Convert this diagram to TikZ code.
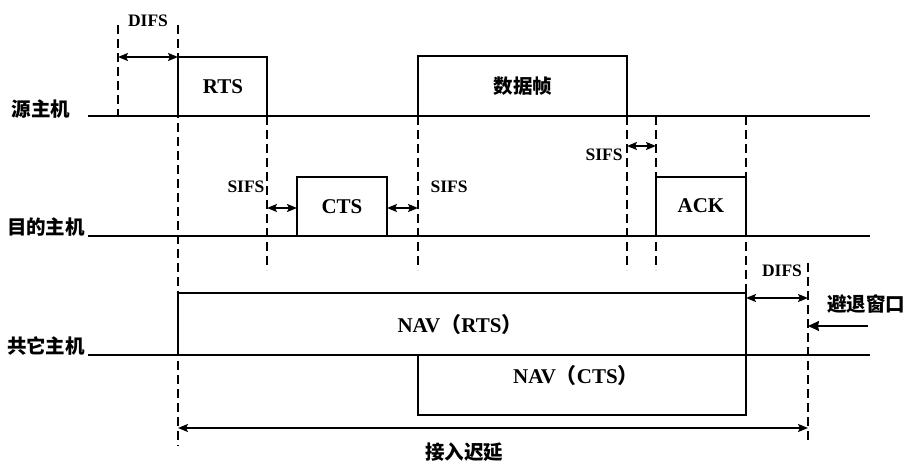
\documentclass[tikz,border=0pt]{standalone}
\usepackage{fontspec}
\setmainfont{Liberation Serif}
\newfontfamily\cjk{Noto Sans CJK SC}
\usetikzlibrary{arrows.meta}
\begin{document}
\begin{tikzpicture}[x=1pt,y=-1pt,
  solidline/.style={line width=2pt,line join=miter},
  dashline/.style={line width=2.2pt,dash pattern=on 9pt off 5pt},
  dimarrow/.style={line width=1.8pt,{Stealth[length=10pt,width=8pt,inset=2pt]}-{Stealth[length=10pt,width=8pt,inset=2pt]}},
  onearrow/.style={line width=1.5pt,-{Stealth[length=11pt,width=10pt,inset=1pt]}},
  lbl/.style={font=\bfseries\fontsize{21}{23}\selectfont,inner sep=0pt},
  small/.style={font=\bfseries\fontsize{17.5}{19}\selectfont,inner sep=0pt},
  cn/.style={font=\cjk\bfseries\fontsize{19.5}{21}\selectfont,inner sep=0pt}]
\useasboundingbox (0,0) rectangle (908,465);
% host labels
\node[cn] (src) at (41,109) {源主机};
\node[cn] (dst) at (46,227) {目的主机};
\node[cn] (oth) at (46,346) {共它主机};
% time lines
\draw[solidline] (88,116) -- (870,116);
\draw[solidline] (88,236) -- (870,236);
\draw[solidline] (88,355) -- (870,355);
% dashed guides
\draw[dashline] (118,25) -- (118,115);
\draw[dashline] (178,25) -- (178,446);
\draw[dashline] (267,116) -- (267,270);
\draw[dashline] (418,116) -- (418,270);
\draw[dashline] (627,116) -- (627,270);
\draw[dashline] (656,116) -- (656,270);
\draw[dashline] (746,116) -- (746,293);
\draw[dashline] (808,263) -- (808,442);
% frames
\draw[solidline] (178,116) -- (178,57) -- (267,57) -- (267,116);
\draw[solidline] (418,116) -- (418,56) -- (627,56) -- (627,116);
\draw[solidline] (297,236) -- (297,177) -- (387,177) -- (387,236);
\draw[solidline] (656,236) -- (656,177) -- (746,177) -- (746,236);
\draw[solidline] (178,355) -- (178,293) -- (746,293) -- (746,415) -- (418,415) -- (418,355);
% frame labels
\node[lbl] (rts) at (223,87) {RTS};
\node[cn] (data) at (523,86) {数据帧};
\node[lbl] (cts) at (342,207) {CTS};
\node[lbl] (ack) at (701,206) {ACK};
\node[lbl] (navr) at (460,325) {NAV{\cjk（}RTS{\cjk）}};
\node[lbl] (navc) at (576,376) {NAV{\cjk（}CTS{\cjk）}};
% interval arrows
\coordinate (d1a) at (118,57); \coordinate (d1b) at (178,57);
\draw[dimarrow] (d1a) -- (d1b);
\node[small] (difs1) at (148,21) {DIFS};
\coordinate (s1a) at (267,208); \coordinate (s1b) at (297,208);
\draw[dimarrow] (s1a) -- (s1b);
\coordinate (s2a) at (387,208); \coordinate (s2b) at (418,208);
\draw[dimarrow] (s2a) -- (s2b);
\node[small] (sifs1) at (246,187) {SIFS};
\node[small] (sifs2) at (449,187) {SIFS};
\coordinate (s3a) at (627,146); \coordinate (s3b) at (656,146);
\draw[dimarrow] (s3a) -- (s3b);
\node[small] (sifs3) at (604,155) {SIFS};
\coordinate (d2a) at (746,298); \coordinate (d2b) at (808,298);
\draw[dimarrow] (d2a) -- (d2b);
\node[small] (difs2) at (782,271) {DIFS};
\coordinate (bo1) at (868,326); \coordinate (bo2) at (808,326);
\draw[onearrow] (bo1) -- (bo2);
\node[cn] (backoff) at (866,304) {避退窗口};
\coordinate (ad1) at (178,428); \coordinate (ad2) at (808,428);
\draw[dimarrow] (ad1) -- (ad2);
\node[cn] (delay) at (464,452) {接入迟延};
\end{tikzpicture}
\end{document}
